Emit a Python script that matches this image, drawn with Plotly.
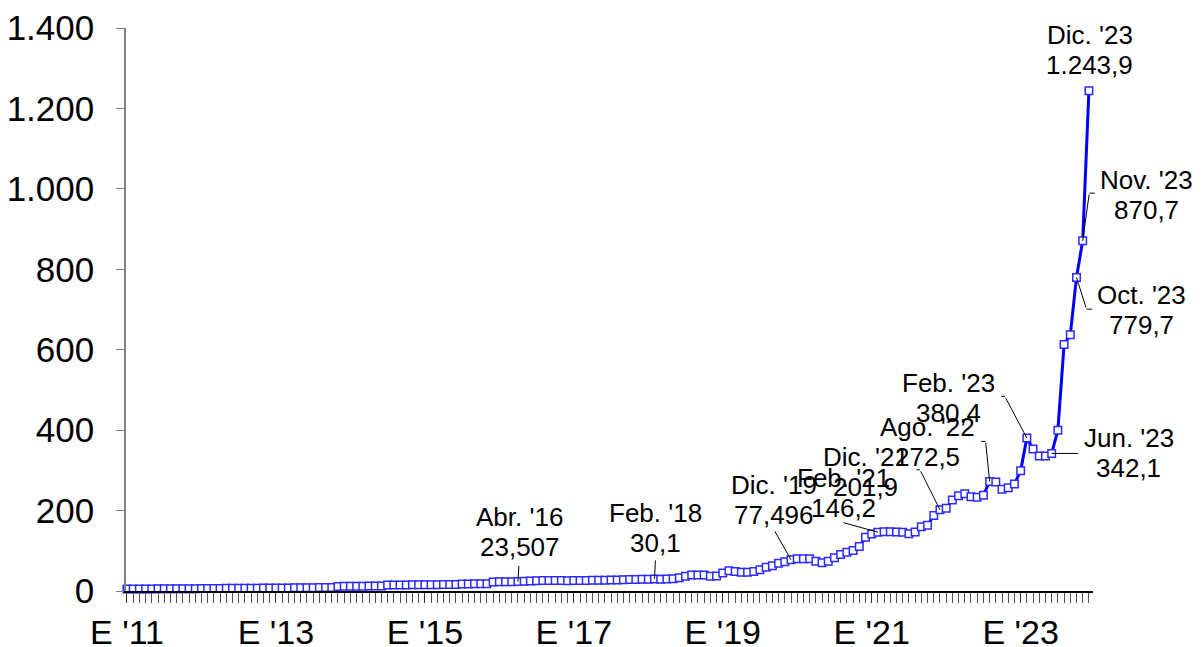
import plotly.graph_objects as go

# ---------------- data ----------------
start_year = 2011
month_abbr = ["Ene.", "Feb.", "Mar.", "Abr.", "May.", "Jun.",
              "Jul.", "Ago.", "Sep.", "Oct.", "Nov.", "Dic."]

values_2011 = [5.0, 5.0, 5.1, 5.1, 5.2, 5.3, 5.4, 5.5, 5.6, 5.6, 5.7, 5.8]
values_2012 = [6.0, 6.1, 6.2, 6.4, 6.6, 6.8, 6.9, 7.0, 7.0, 7.1, 7.2, 7.3]
values_2013 = [7.4, 7.5, 7.7, 7.8, 8.0, 8.2, 8.3, 8.5, 8.6, 8.8, 11.2, 11.6]
values_2014 = [11.8, 12.0, 12.0, 12.2, 12.3, 12.5, 14.8, 15.0, 15.0, 15.2, 15.3, 15.5]
values_2015 = [15.5, 15.6, 15.8, 16.0, 16.2, 16.4, 17.5, 17.7, 17.8, 18.0, 18.3, 22.5]
values_2016 = [23.0, 23.2, 23.3, 23.507, 24.2, 24.8, 25.5, 25.8, 26.0, 26.0, 25.8, 25.6]
values_2017 = [25.8, 26.0, 26.2, 26.5, 26.7, 27.0, 27.3, 27.6, 28.0, 28.3, 28.6, 29.0]
values_2018 = [29.4, 30.1, 29.5, 30.0, 30.5, 33.0, 36.5, 39.5, 40.0, 39.5, 36.5, 37.0]
values_2019 = [45.0, 50.5, 48.5, 46.5, 46.5, 48.5, 53.0, 59.0, 62.5, 69.0, 73.0, 77.496]
values_2020 = [80.0, 80.5, 80.0, 74.0, 70.5, 74.0, 82.5, 90.5, 96.5, 100.5, 110.5, 133.5]
values_2021 = [142.0, 146.2, 147.5, 147.5, 147.0, 146.0, 142.5, 146.5, 160.0, 163.5, 188.0, 201.9]
values_2022 = [206.0, 226.0, 237.0, 242.0, 234.5, 233.0, 238.0, 272.5, 271.0, 253.0, 257.0, 266.0]
values_2023 = [299.0, 380.4, 353.0, 336.0, 336.0, 342.1, 400.0, 613.0, 637.0, 779.7, 870.7, 1243.9]

values = (values_2011 + values_2012 + values_2013 + values_2014 + values_2015 +
          values_2016 + values_2017 + values_2018 + values_2019 + values_2020 +
          values_2021 + values_2022 + values_2023)
month_index = list(range(len(values)))

x_tick_months = [0, 24, 48, 72, 96, 120, 144]
x_tick_labels = ["E '11", "E '13", "E '15", "E '17", "E '19", "E '21", "E '23"]

y_tick_values = [0, 200, 400, 600, 800, 1000, 1200, 1400]
y_tick_labels = ["0", "200", "400", "600", "800", "1.000", "1.200", "1.400"]

# highlighted months (index) and decimals shown
ann_months = [63, 85, 107, 121, 131, 139, 145, 149, 153, 154, 155]
ann_decimals = [3, 1, 3, 1, 1, 1, 1, 1, 1, 1, 1]

# ---------------- styling of the labels (pixel offsets) ----------------
# text block centre offset from the point: (dx right, dy up)
ann_text_offset = [(2, 50), (1.5, 51), (-17, 60), (-34, 39.5), (-74, 38),
                   (-62, 39), (-78, 40), (77, 0), (65.5, -32.4), (64, 46), (1, 41)]
# leader: (tip shift dx, dy up) , (tail ax, ay down) ; None = no leader
ann_leader = [((0, 0), (1, -17)), ((0, 0), (1, -20)), ((0, 0), (-17, -30)),
              ((0, 0), (-36, -10)), ((0, 0), (-20, -40)), ((0, 0), (-4, -40)),
              ((0, 0), (-22, -41.6)), ((0, 0), (28, 0)), ((0, 0), (10, 31.7)),
              ((0, 0), (6.6, -47.7)), None]
# elbow legs: (tip shift dx, dy up), (ax, ay)
ann_elbow = [None, None, None, None, ((-20, 40), (-5, 0)), ((-4, 40), (-6, 0)),
             ((-22, 41.6), (-5, 0)), None, ((10, -31.7), (7, 0)),
             ((6.6, 47.7), (7, 0)), None]


def fmt_es(v, d):
    s = f"{v:,.{d}f}"
    return s.replace(",", "X").replace(".", ",").replace("X", ".")


FONT = "Liberation Sans, Arial, sans-serif"

fig = go.Figure()
fig.add_trace(go.Scatter(
    x=month_index, y=values, mode="lines+markers",
    line=dict(color="#0000FF", width=3),
    marker=dict(symbol="square", size=7.5, color="white",
                line=dict(color="#2a2aff", width=1.5)),
    cliponaxis=False, showlegend=False, hoverinfo="skip",
))

annotations = []
for k, mi in enumerate(ann_months):
    v = values[mi]
    m = mi % 12
    yy = (start_year + mi // 12) % 100
    label = f"{month_abbr[m]} '{yy:02d}"
    val_txt = fmt_es(v, ann_decimals[k])
    dx, dy = ann_text_offset[k]
    for txt, extra in ((label, 15), (val_txt, -15)):
        annotations.append(dict(
            x=mi, y=v, xref="x", yref="y", text=txt, showarrow=False,
            xshift=dx, yshift=dy + extra, xanchor="center", yanchor="middle",
            font=dict(family=FONT, size=26, color="black"),
        ))
    for seg in (ann_leader[k], ann_elbow[k]):
        if seg is None:
            continue
        (sx, sy), (ax, ay) = seg
        annotations.append(dict(
            x=mi, y=v, xref="x", yref="y", text="", showarrow=True,
            xshift=sx, yshift=sy, ax=ax, ay=ay, axref="pixel", ayref="pixel",
            arrowhead=0, arrowwidth=1, arrowcolor="black", standoff=0,
        ))

# the page adds an 8px body margin, so the figure is sized to the visible area
fig.update_layout(
    width=1195, height=639, autosize=False,
    margin=dict(l=118, r=110, t=20, b=56, autoexpand=False),
    paper_bgcolor="white", plot_bgcolor="white",
    font=dict(family=FONT, color="black"),
    annotations=annotations,
    xaxis=dict(
        range=[-0.16, 155.66], showgrid=False, zeroline=False, automargin=False,
        showline=True, linecolor="black", linewidth=1.5,
        tickmode="array", tickvals=x_tick_months, ticktext=x_tick_labels,
        ticks="outside", ticklen=10, tickwidth=1, tickcolor="#333333",
        tickfont=dict(family=FONT, size=34, color="black"),
        minor=dict(ticks="outside", dtick=1, tick0=0, ticklen=10,
                   tickwidth=1, tickcolor="#555555"),
    ),
    yaxis=dict(
        range=[0, 1400], showgrid=False, zeroline=False, automargin=False,
        showline=True, linecolor="#808080", linewidth=1.5,
        tickmode="array", tickvals=y_tick_values, ticktext=y_tick_labels,
        ticks="outside", ticklen=8, tickwidth=1, tickcolor="#808080",
        tickfont=dict(family=FONT, size=35, color="black"),
        ticklabelstandoff=15,
    ),
)

fig.write_html("out.html")
